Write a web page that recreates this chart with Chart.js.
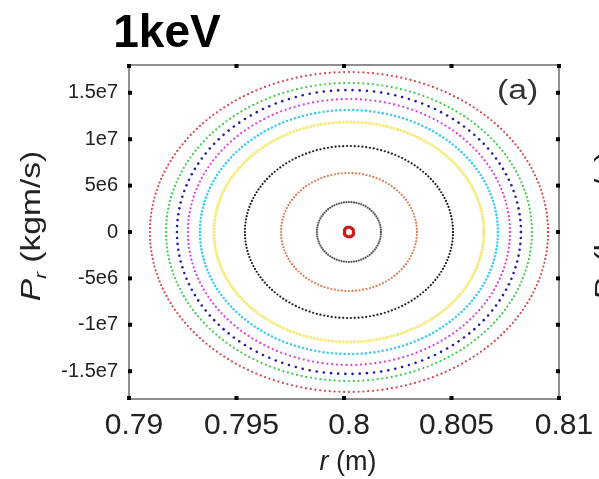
<!DOCTYPE html>
<html>
<head>
<meta charset="utf-8">
<script src="https://cdn.jsdelivr.net/npm/chart.js@4.4.1/dist/chart.umd.min.js"></script>
<style>
  html, body { margin: 0; padding: 0; background: #fff; }
  #wrap { width: 599px; height: 479px; position: relative; }
</style>
</head>
<body>
<div id="wrap"><canvas id="c"></canvas></div>
<script>
// Poincare section, 1keV.
// Each ring is described by its half width in r (m) and half height in Pr (kgm/s).
const centerR = 0.80023;
const centerP = 0;
const ringNames = ['red', 'green', 'blue', 'magenta', 'cyan', 'yellow', 'black', 'orange', 'gray', 'core'];
const ringHalfR = [0.00926, 0.00851, 0.00800, 0.00749, 0.00693, 0.00628, 0.00484, 0.00316, 0.00149, 0.00022];
const ringHalfP = [1.724e7, 1.606e7, 1.530e7, 1.433e7, 1.315e7, 1.185e7, 9.27e6, 6.36e6, 3.23e6, 5.2e5];
const ringDots = [260, 240, 150, 210, 220, 230, 170, 120, 80, 48];

const rTicks = [0.79, 0.795, 0.8, 0.805, 0.81];
const rTickLabels = ['0.79', '0.795', '0.8', '0.805', '0.81'];
const pTicks = [-1.5e7, -1e7, -5e6, 0, 5e6, 1e7, 1.5e7];
const pTickLabels = ['-1.5e7', '-1e7', '-5e6', '0', '5e6', '1e7', '1.5e7'];

// styles
const ringColors = {
  red: '#d8404a', green: '#33cc44', blue: '#2020a0', magenta: '#dd33dd', cyan: '#44ccee',
  yellow: '#f5ec88', black: '#1a1a1a', orange: '#e07848', gray: '#555555', core: '#cc1818'
};
const ringSize = { yellow: 1.7, cyan: 1.3, blue: 1.3 };
const FONT = "'Liberation Sans', Arial, sans-serif";

function ringPoints(i) {
  const pts = [];
  const n = ringDots[i];
  for (let k = 0; k <= n; k++) {
    const t = (2 * Math.PI * k) / n;
    pts.push({ x: centerR + ringHalfR[i] * Math.cos(t), y: centerP + ringHalfP[i] * Math.sin(t) });
  }
  return pts;
}

const datasets = ringNames.map((name, i) => {
  const core = name === 'core';
  return {
    label: name,
    data: ringPoints(i),
    showLine: core,
    borderColor: ringColors[name],
    backgroundColor: ringColors[name],
    borderWidth: core ? 3 : 0,
    borderJoinStyle: 'round',
    borderCapStyle: 'round',
    pointRadius: core ? 0 : (ringSize[name] || 1.1),
    pointBorderWidth: 0,
  };
});

const frame = {
  id: 'frame',
  afterDraw(chart) {
    const { ctx, chartArea: a, scales } = chart;
    ctx.save();
    ctx.strokeStyle = '#6a6a6a';
    ctx.lineWidth = 1.5;
    ctx.strokeRect(a.left, a.top, a.right - a.left, a.bottom - a.top);

    ctx.fillStyle = '#000';
    rTicks.forEach(v => {
      const x = scales.x.getPixelForValue(v);
      ctx.fillRect(x - 2, a.bottom - 3, 4, 4);
      ctx.fillRect(x - 2, a.top - 1, 4, 4);
    });
    pTicks.forEach(v => {
      const y = scales.y.getPixelForValue(v);
      ctx.fillRect(a.left - 1, y - 2, 4, 4);
      ctx.fillRect(a.right - 3, y - 2, 4, 4);
    });

    ctx.fillStyle = '#000';
    ctx.textBaseline = 'alphabetic';
    ctx.textAlign = 'center';
    ctx.font = 'bold 46px ' + FONT;
    ctx.fillText('1keV', 167, 47);

    // panel tag, a little wider than the font gives
    ctx.save();
    ctx.fillStyle = '#333';
    ctx.textAlign = 'left';
    ctx.font = '27px ' + FONT;
    ctx.translate(497, 99);
    ctx.scale(1.25, 1);
    ctx.fillText('(a)', 0, 0);
    ctx.restore();

    // x axis title
    ctx.fillStyle = '#222';
    ctx.textAlign = 'left';
    ctx.font = 'italic 27px ' + FONT;
    const w1 = ctx.measureText('r').width;
    ctx.font = '27px ' + FONT;
    const w2 = ctx.measureText(' (m)').width;
    let x0 = 348 - (w1 + w2) / 2;
    ctx.font = 'italic 27px ' + FONT;
    ctx.fillText('r', x0, 470);
    ctx.font = '27px ' + FONT;
    ctx.fillText(' (m)', x0 + w1, 470);

    drawYTitle(ctx, 40, 226);
    drawYTitle(ctx, 614, 226);
    ctx.restore();
  }
};

function drawYTitle(ctx, x, y) {
  ctx.save();
  ctx.translate(x, y);
  ctx.rotate(-Math.PI / 2);
  ctx.scale(1.2, 1);
  ctx.fillStyle = '#222';
  ctx.font = 'italic 28px ' + FONT;
  const wP = ctx.measureText('P').width;
  ctx.font = 'italic 17px ' + FONT;
  const wr = ctx.measureText('r').width;
  ctx.font = '28px ' + FONT;
  const wu = ctx.measureText(' (kgm/s)').width;
  let s = -(wP + wr + wu) / 2;
  ctx.textAlign = 'left';
  ctx.font = 'italic 28px ' + FONT;
  ctx.fillText('P', s, 0);
  ctx.font = 'italic 17px ' + FONT;
  ctx.fillText('r', s + wP, 6);
  ctx.font = '28px ' + FONT;
  ctx.fillText(' (kgm/s)', s + wP + wr, 0);
  ctx.restore();
}

new Chart(document.getElementById('c'), {
  type: 'scatter',
  data: { datasets },
  options: {
    responsive: true,
    maintainAspectRatio: false,
    animation: false,
    layout: { padding: { top: 65, right: 40, left: 0, bottom: 0 } },
    plugins: { legend: { display: false }, tooltip: { enabled: false } },
    scales: {
      x: {
        type: 'linear', min: 0.79, max: 0.81,
        afterBuildTicks: s => { s.ticks = rTicks.map(v => ({ value: v })); },
        afterFit: s => { s.height = 80; },
        grid: { display: false, drawTicks: false },
        border: { display: false },
        ticks: {
          autoSkip: false, maxRotation: 0, padding: 9, color: '#222', labelOffset: 5,
          font: { family: FONT, size: 30 },
          callback: (v, i) => rTickLabels[i]
        }
      },
      y: {
        type: 'linear', min: -1.8e7, max: 1.8e7,
        afterBuildTicks: s => { s.ticks = pTicks.map(v => ({ value: v })); },
        afterFit: s => { s.width = 129; },
        grid: { display: false, drawTicks: false },
        border: { display: false },
        ticks: {
          autoSkip: false, padding: 11, color: '#222',
          font: { family: FONT, size: 20 },
          callback: (v, i) => pTickLabels[i]
        }
      }
    }
  },
  plugins: [frame]
});
</script>
</body>
</html>
